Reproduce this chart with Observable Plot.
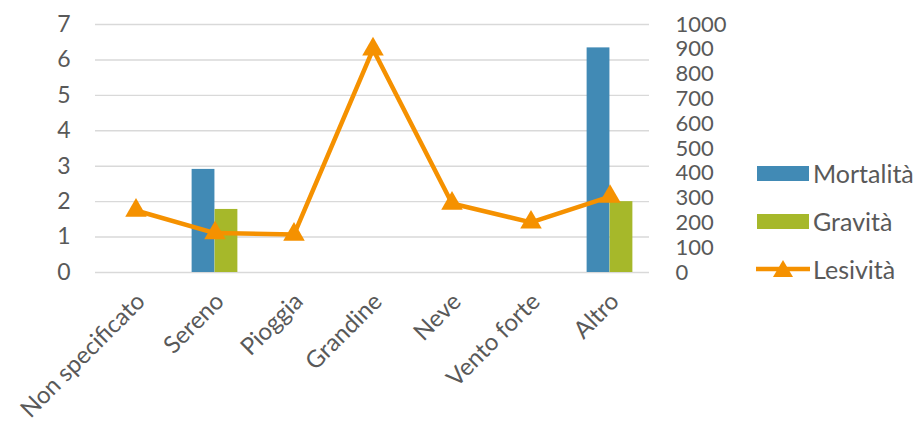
<!DOCTYPE html>
<html><head><meta charset="utf-8">
<script src="https://cdn.jsdelivr.net/npm/d3@7"></script>
<script src="https://cdn.jsdelivr.net/npm/@observablehq/plot@0.6"></script>
<style>
body{margin:0;background:#fff;}
#wrap{position:relative;width:920px;height:422px;overflow:hidden;font-family:Lato,"Open Sans",sans-serif;}
#legend{position:absolute;left:754px;top:149px;}
.row{display:flex;align-items:center;height:48px;}
.row span{font-size:25px;color:#595959;margin-left:3px;}
</style></head><body><div id="wrap"></div>
<script>
const categories = ["Non specificato","Sereno","Pioggia","Grandine","Neve","Vento forte","Altro"];
const mortalita = [0, 2.91, 0, 0, 0, 0, 6.34];
const gravita   = [0, 1.78, 0, 0, 0, 0, 2.0];
const lesivita  = [250, 159, 153, 900, 278, 202, 306];
const leftTicks = [0,1,2,3,4,5,6,7];
const rightTicks = [0,100,200,300,400,500,600,700,800,900,1000];
const seriesNames = ["Mortalità","Gravità","Lesività"];
const colors = ["#418ab5","#a6b82a","#f59100"];

const leftMax = 7, rightMax = 1000, k = leftMax / rightMax;
const W = 920, H = 422, mL = 95, mR = 271, mT = 24, mB = 150;
const bw = (W - mL - mR) / categories.length;

const mData = categories.map((c,i)=>({c, v: mortalita[i]})).filter(d=>d.v>0);
const gData = categories.map((c,i)=>({c, v: gravita[i]})).filter(d=>d.v>0);
const lData = categories.map((c,i)=>({c, v: lesivita[i] * k}));

const chart = Plot.plot({
  width: W, height: H,
  marginLeft: mL, marginRight: mR, marginTop: mT, marginBottom: mB,
  style: {fontFamily: "Lato, 'Open Sans', sans-serif", fontSize: "22px", color: "#595959", background: "#fff", overflow: "visible"},
  x: {type: "band", domain: categories, padding: 0},
  y: {domain: [0, leftMax]},
  marks: [
    Plot.ruleY(leftTicks, {stroke: "#d9d9d9", strokeWidth: 1.4}),
    Plot.barY(mData, {x: "c", y: "v", fill: colors[0], insetLeft: bw*0.21, insetRight: bw*0.5}),
    Plot.barY(gData, {x: "c", y: "v", fill: colors[1], insetLeft: bw*0.5, insetRight: bw*0.21}),
    Plot.line(lData, {x: "c", y: "v", stroke: colors[2], strokeWidth: 4.5, strokeLinejoin: "miter"}),
    Plot.dot(lData, {x: "c", y: "v", symbol: "triangle", r: 8, fill: colors[2], stroke: "none"}),
    Plot.axisY({anchor: "left", ticks: leftTicks, tickFormat: d3.format("d"), tickSize: 0, tickPadding: 25, fill: "#595959", fontSize: 23, label: null}),
    Plot.axisY({anchor: "right", ticks: rightTicks.map(t=>t*k), tickFormat: d => String(Math.round(d/k)), tickSize: 0, tickPadding: 26, fill: "#595959", fontSize: 22, label: null}),
    Plot.axisX({tickRotate: -45, tickSize: 0, tickPadding: 25, dx: 5, fill: "#595959", fontSize: 24, label: null})
  ]
});
const wrap = document.getElementById("wrap");
wrap.appendChild(chart);

const legend = document.createElement("div");
legend.id = "legend";
const sw = (i) => i < 2
  ? `<svg width="56" height="48"><rect x="3" y="17" width="52" height="15" fill="${colors[i]}"/></svg>`
  : `<svg width="56" height="48"><line x1="2" x2="56" y1="24" y2="24" stroke="${colors[2]}" stroke-width="4.5"/><path d="M29,15 L39,32 L19,32 Z" fill="${colors[2]}"/></svg>`;
legend.innerHTML = seriesNames.map((n,i)=>`<div class="row">${sw(i)}<span>${n}</span></div>`).join("");
wrap.appendChild(legend);
</script>
</body></html>
